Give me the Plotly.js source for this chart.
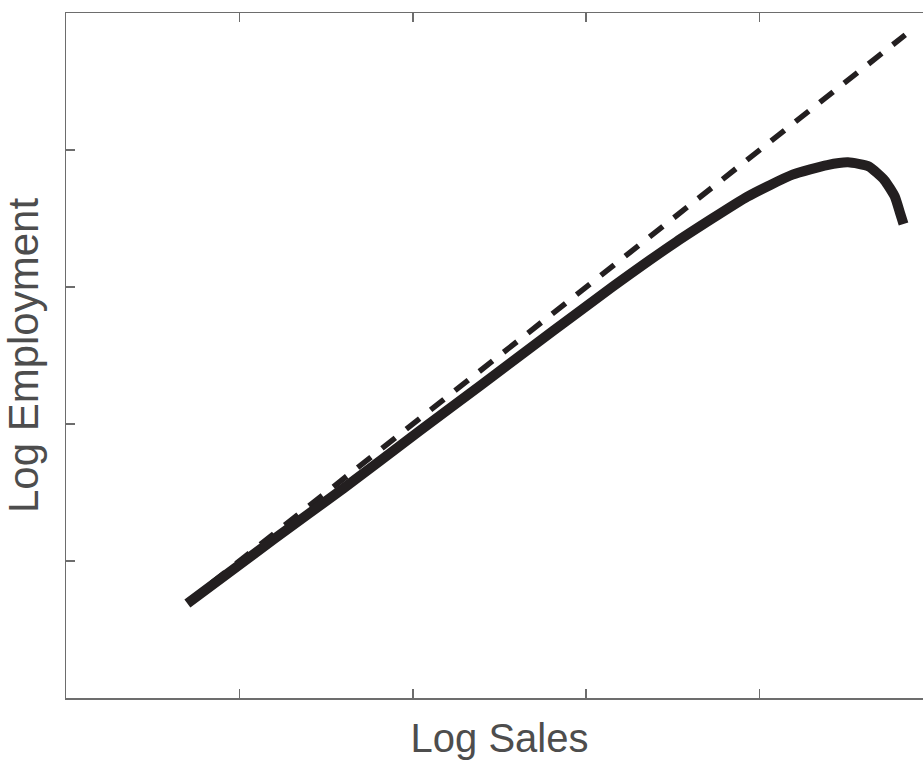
<!DOCTYPE html>
<html>
<head>
<meta charset="utf-8">
<script src="https://cdn.plot.ly/plotly-3.0.1.min.js"></script>
<style>
html,body{margin:0;padding:0;overflow:hidden;background:#fff;}
#chart{width:940px;height:765px;}
</style>
</head>
<body>
<div id="chart"></div>
<script>
// Log sales (x) and log employment (y)
var fitX = [0.70, 4.84];
var fitY = [0.70, 4.84];

var actualX = [0.70, 1.20, 1.60, 2.04, 2.40, 2.81, 3.15, 3.52, 3.93, 4.19, 4.39, 4.51, 4.63, 4.72, 4.78, 4.81, 4.83];
var actualY = [0.69, 1.16, 1.53, 1.95, 2.29, 2.68, 3.00, 3.33, 3.66, 3.82, 3.89, 3.91, 3.88, 3.78, 3.66, 3.54, 3.46];

var tickPositions = [1, 2, 3, 4];

var xTitle = 'Log Sales';
var yTitle = 'Log Employment';

var traces = [
  {
    x: fitX, y: fitY, mode: 'lines', type: 'scatter',
    line: {color: '#231f20', width: 5.5, dash: '17px,14px'},
    hoverinfo: 'skip'
  },
  {
    x: actualX, y: actualY, mode: 'lines', type: 'scatter',
    line: {color: '#231f20', width: 10, shape: 'spline', smoothing: 0.5},
    hoverinfo: 'skip'
  }
];

var axisCommon = {
  range: [0, 5],
  tickvals: tickPositions,
  showticklabels: false,
  ticks: 'inside',
  ticklen: 9,
  tickwidth: 1.5,
  tickcolor: '#6d6d6d',
  showline: true,
  linecolor: '#6d6d6d',
  linewidth: 1.5,
  mirror: 'ticks',
  showgrid: false,
  zeroline: false,
  fixedrange: true
};

var layout = {
  width: 940,
  height: 765,
  margin: {l: 66, r: 6.5, t: 13, b: 67},
  paper_bgcolor: '#ffffff',
  plot_bgcolor: '#ffffff',
  showlegend: false,
  font: {family: 'Liberation Sans, Arial, sans-serif', color: '#4d4d4d'},
  xaxis: Object.assign({}, axisCommon, {
    title: {text: xTitle, font: {size: 40, color: '#4d4d4d'}, standoff: 25}
  }),
  yaxis: Object.assign({}, axisCommon, {
    title: {text: yTitle, font: {size: 42, color: '#4d4d4d'}, standoff: 14}
  })
};

Plotly.newPlot('chart', traces, layout, {staticPlot: true, displayModeBar: false});
</script>
</body>
</html>
